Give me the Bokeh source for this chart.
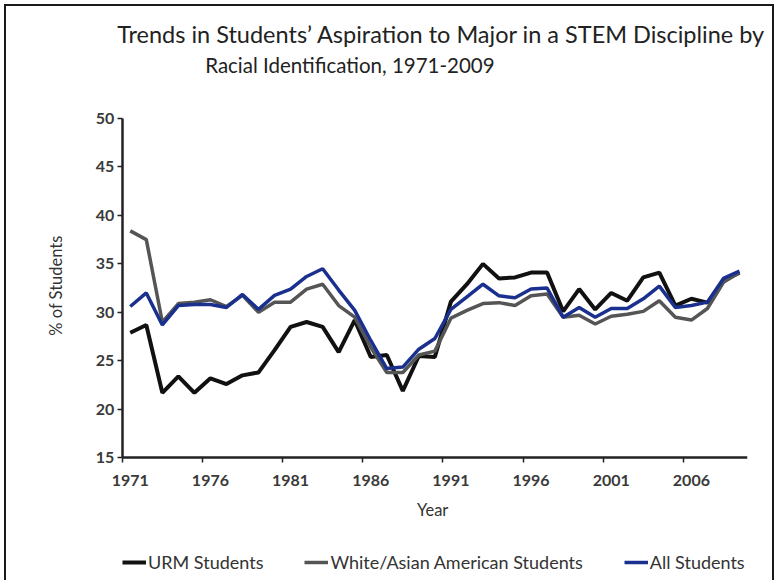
import math
from bokeh.plotting import figure
from bokeh.models import Legend, LegendItem, FixedTicker, Title, Range1d, Label
from bokeh.embed import file_html
from bokeh.resources import INLINE

years = list(range(1971, 2010))
urm = [27.9, 28.7, 21.7, 23.4, 21.7, 23.2, 22.6, 23.5, 23.8, 26.1,
       28.5, 29.0, 28.5, 25.9, 29.2, 25.4, 25.6, 21.9, 25.5, 25.4,
       31.1, 32.9, 35.0, 33.5, 33.6, 34.1, 34.1, 30.1, 32.4, 30.3,
       32.0, 31.2, 33.6, 34.1, 30.7, 31.4, 31.0, 33.3, 34.1]
white_asian = [38.4, 37.5, 29.0, 30.9, 31.05, 31.3, 30.6, 31.75, 30.0, 31.05,
               31.05, 32.4, 32.9, 30.7, 29.5, 26.4, 23.8, 23.8, 25.6, 26.0,
               29.4, 30.2, 30.9, 31.0, 30.7, 31.7, 31.9, 29.5, 29.7, 28.8,
               29.6, 29.8, 30.1, 31.2, 29.5, 29.2, 30.4, 33.1, 34.1]
all_students = [30.6, 32.0, 28.7, 30.7, 30.8, 30.8, 30.5, 31.85, 30.3, 31.75,
                32.4, 33.7, 34.5, 32.3, 30.2, 27.1, 24.2, 24.35, 26.2, 27.3,
                30.3, 31.6, 32.9, 31.7, 31.5, 32.4, 32.5, 29.5, 30.5, 29.5,
                30.4, 30.4, 31.4, 32.7, 30.5, 30.7, 31.05, 33.5, 34.25]
x_tick_years = [1971, 1976, 1981, 1986, 1991, 1996, 2001, 2006]
x_tick_labels = ["1971", "1976", "1981", "1986", "1991", "1996", "2001", "2006"]
y_ticks = [15, 20, 25, 30, 35, 40, 45, 50]
X_MIN, X_MAX = 1970.5, 2009.5
Y_MIN, Y_MAX = 15, 50

FONT = "Lato"

# The frame is widened past the axes so that the legend, tick labels and axis
# titles (drawn inside it) are not clipped; the axes are pinned and bounded.
p = figure(width=770, height=576, output_backend="svg", toolbar_location=None,
           x_range=Range1d(1963.28, X_MAX), y_range=Range1d(2.75, 51.44),
           min_border_left=0, min_border_top=98, min_border_right=29,
           min_border_bottom=6, title=None)
p.styles = {"margin": "4px 0 0 4px",
            "border-left": "2px solid #1a1a1a", "border-top": "2px solid #1a1a1a",
            "border-right": "2px solid #1a1a1a"}
p.outline_line_color = None
p.xgrid.grid_line_color = None
p.ygrid.grid_line_color = None

r1 = p.line(years, urm, line_color="#111111", line_width=4)
r2 = p.line(years, white_asian, line_color="#555555", line_width=3.5)
r3 = p.line(years, all_students, line_color="#1a308f", line_width=3.5)

# x axis
p.xaxis.fixed_location = Y_MIN
p.xaxis.bounds = (X_MIN, X_MAX)
p.xaxis.ticker = FixedTicker(ticks=x_tick_years,
                             minor_ticks=[y - 0.5 for y in x_tick_years])
p.xaxis.major_label_overrides = {t: l for t, l in zip(x_tick_years, x_tick_labels)}
p.xaxis.major_tick_line_color = None
p.xaxis.minor_tick_line_color = "#222222"
p.xaxis.minor_tick_line_width = 1.5
p.xaxis.minor_tick_out = 5
p.xaxis.minor_tick_in = 0
p.xaxis.major_label_standoff = 11

# y axis
p.yaxis.fixed_location = X_MIN
p.yaxis.bounds = (Y_MIN, Y_MAX)
p.yaxis.ticker = FixedTicker(ticks=y_ticks)
p.yaxis.major_tick_out = 5
p.yaxis.major_tick_in = 0
p.yaxis.minor_tick_line_color = None
p.yaxis.major_tick_line_color = "#222222"
p.yaxis.major_tick_line_width = 1.5
p.yaxis.major_label_standoff = 3

for ax in (p.xaxis[0], p.yaxis[0]):
    ax.axis_line_color = "#222222"
    ax.axis_line_width = 2.5
    ax.major_label_text_font = FONT
    ax.major_label_text_font_size = "16px"
    ax.major_label_text_font_style = "bold"
    ax.major_label_text_color = "#3a3a3a"

# axis titles
p.add_layout(Label(x=1989.86, y=9.56, text="Year", text_align="center",
                   text_baseline="middle", text_font=FONT, text_font_size="16.5px",
                   text_color="#333333"))
p.add_layout(Label(x=1966.34, y=32.77, text="% of Students", angle=math.pi / 2,
                   text_align="center", text_baseline="middle", text_font=FONT,
                   text_font_size="16.5px", text_color="#333333"))

# title (two lines, second one indented); an empty spacer keeps it off the frame
top_gap = Title(text=" ", standoff=25, text_font_size="1px")
t2 = Title(text="Racial Identification, 1971-2009", align="left", offset=83 + 115.7,
           standoff=0, text_font=FONT, text_font_size="20.5px",
           text_font_style="normal", text_color="#222222")
t1 = Title(text="Trends in Students\u2019 Aspiration to Major in a STEM Discipline by",
           align="left", offset=-5 + 115.7, standoff=5, text_font=FONT,
           text_font_size="23.5px", text_font_style="normal", text_color="#222222")
p.add_layout(top_gap, "above")
p.add_layout(t2, "above")
p.add_layout(t1, "above")

legend = Legend(items=[LegendItem(label="URM Students", renderers=[r1]),
                       LegendItem(label="White/Asian American Students", renderers=[r2]),
                       LegendItem(label="All Students", renderers=[r3])],
                orientation="horizontal", location=(116, 3),
                glyph_width=24, glyph_height=20, label_height=20, label_standoff=2,
                spacing=41, padding=0, margin=0, border_line_color=None,
                background_fill_alpha=0, label_text_font=FONT,
                label_text_font_size="18px", label_text_color="#333333")
p.add_layout(legend)

open("out.html", "w").write(file_html(p, INLINE))
